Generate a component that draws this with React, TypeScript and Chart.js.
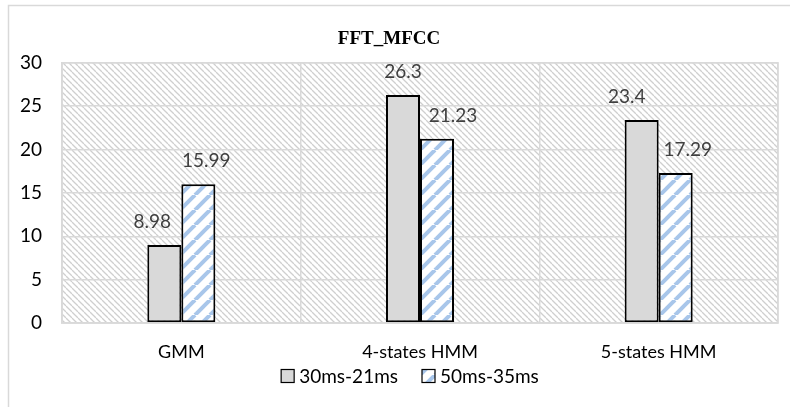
import React, { useEffect, useRef } from "react";
import { Chart, registerables } from "chart.js";

Chart.register(...registerables);

const categories = ["GMM", "4-states HMM", "5-states HMM"];
const series1Name = "30ms-21ms";
const series2Name = "50ms-35ms";
const series1 = [8.98, 26.3, 23.4];
const series2 = [15.99, 21.23, 17.29];
const series1Labels = ["8.98", "26.3", "23.4"];
const series2Labels = ["15.99", "21.23", "17.29"];
const yTicks = [0, 5, 10, 15, 20, 25, 30];
// label nudges relative to the bar top (styling, not data)
const labelNudge1 = [-12, 0, -15];
const labelNudge2 = [8, 16, 12];

const FONT = "Lato, 'Open Sans', sans-serif";

function makeBgPattern(): CanvasPattern | string {
  const P = 6;
  const c = document.createElement("canvas");
  c.width = P;
  c.height = P;
  const x = c.getContext("2d");
  if (!x) return "#eeeeee";
  x.fillStyle = "#ffffff";
  x.fillRect(0, 0, P, P);
  x.strokeStyle = "#cfcfcf";
  x.lineWidth = 1.3;
  for (let k = -1; k <= 1; k++) {
    x.beginPath();
    x.moveTo(k * P, 0);
    x.lineTo(k * P + P, P);
    x.stroke();
  }
  return x.createPattern(c, "repeat") || "#eeeeee";
}

function makeBluePattern(): CanvasPattern | string {
  const P = 15;
  const c = document.createElement("canvas");
  c.width = P;
  c.height = P;
  const x = c.getContext("2d");
  if (!x) return "#a9c5e8";
  x.fillStyle = "#ffffff";
  x.fillRect(0, 0, P, P);
  x.strokeStyle = "#a8c6ea";
  x.lineWidth = 4;
  for (let k = -1; k <= 1; k++) {
    x.beginPath();
    x.moveTo(k * P, P);
    x.lineTo(k * P + P, 0);
    x.stroke();
  }
  return x.createPattern(c, "repeat") || "#a9c5e8";
}

export default function App() {
  const ref = useRef<HTMLCanvasElement | null>(null);

  useEffect(() => {
    const canvas = ref.current;
    if (!canvas) return;
    const bg = makeBgPattern();
    const blue = makeBluePattern();

    const bgPlugin = {
      id: "plotBg",
      beforeDraw(chart: any) {
        const { ctx, chartArea } = chart;
        ctx.save();
        ctx.fillStyle = "#ffffff";
        ctx.fillRect(0, 0, chart.width, chart.height);
        ctx.strokeStyle = "#d9d9d9";
        ctx.lineWidth = 1.5;
        ctx.strokeRect(8.5, 5.5, chart.width + 20, chart.height + 20);
        ctx.fillStyle = bg;
        ctx.fillRect(chartArea.left, chartArea.top, chartArea.right - chartArea.left, chartArea.bottom - chartArea.top);
        ctx.restore();
      },
    };

    const labelPlugin = {
      id: "valLabels",
      afterDatasetsDraw(chart: any) {
        const { ctx } = chart;
        ctx.save();
        ctx.font = `19px ${FONT}`;
        ctx.fillStyle = "#404040";
        ctx.textAlign = "center";
        ctx.textBaseline = "middle";
        const sets = [
          { labels: series1Labels, nudge: labelNudge1 },
          { labels: series2Labels, nudge: labelNudge2 },
        ];
        sets.forEach((s, di) => {
          const meta = chart.getDatasetMeta(di);
          meta.data.forEach((bar: any, i: number) => {
            ctx.fillText(s.labels[i], bar.x + s.nudge[i], bar.y - 23);
          });
        });
        ctx.restore();
      },
    };

    const legendPlugin = {
      id: "customLegend",
      afterDraw(chart: any) {
        const { ctx } = chart;
        ctx.save();
        ctx.font = `19px ${FONT}`;
        ctx.textBaseline = "middle";
        ctx.textAlign = "left";
        const items = [
          { text: series1Name, fill: "#d9d9d9" as any },
          { text: series2Name, fill: blue as any },
        ];
        const box = 13, gap = 5, between = 24;
        const widths = items.map((it) => ctx.measureText(it.text).width);
        const total = widths.reduce((a, w) => a + box + gap + w, 0) + between;
        const cy = 376;
        let x = 410 - total / 2;
        items.forEach((it, i) => {
          ctx.fillStyle = it.fill;
          ctx.fillRect(x, cy - box / 2, box, box);
          ctx.strokeStyle = "#000000";
          ctx.lineWidth = 1.2;
          ctx.strokeRect(x, cy - box / 2, box, box);
          ctx.fillStyle = "#000000";
          ctx.fillText(it.text, x + box + gap, cy + 1);
          x += box + gap + widths[i] + between;
        });
        ctx.restore();
      },
    };

    const chart = new Chart(canvas, {
      type: "bar",
      data: {
        labels: categories,
        datasets: [
          {
            label: series1Name,
            data: series1,
            backgroundColor: "#d9d9d9",
            borderColor: "#000000",
            borderWidth: 2,
            borderSkipped: false,
            barPercentage: 1,
            categoryPercentage: 0.285,
          },
          {
            label: series2Name,
            data: series2,
            backgroundColor: blue as any,
            borderColor: "#000000",
            borderWidth: 2,
            borderSkipped: false,
            barPercentage: 1,
            categoryPercentage: 0.285,
          },
        ],
      },
      options: {
        animation: false,
        responsive: false,
        maintainAspectRatio: false,
        devicePixelRatio: 1,
        layout: { padding: { left: 0, right: 12, top: 0, bottom: 36 } },
        plugins: {
          title: {
            display: true,
            text: "FFT_MFCC",
            color: "#000000",
            font: { family: "'Liberation Serif', 'Times New Roman', serif", size: 19, weight: "bold" },
            padding: { top: 28, bottom: 12 },
          },
          legend: { display: false },
          tooltip: { enabled: false },
        },
        scales: {
          x: {
            grid: { display: true, offset: true, color: "#d9d9d9", lineWidth: 1.5, drawTicks: false },
            border: { display: true, color: "#d9d9d9", width: 1.5 },
            ticks: { color: "#000000", font: { family: FONT, size: 18 }, padding: 18 },
            afterFit(scale: any) {
              scale.height = 48;
            },
          },
          y: {
            min: 0,
            max: 30,
            afterBuildTicks(scale: any) {
              scale.ticks = yTicks.map((v) => ({ value: v }));
            },
            grid: { color: "#d9d9d9", lineWidth: 1.5, drawTicks: false },
            border: { display: true, color: "#d9d9d9", width: 1.5 },
            ticks: { color: "#000000", font: { family: FONT, size: 19 }, padding: 20 },
            afterFit(scale: any) {
              scale.width = 62;
            },
          },
        },
      },
      plugins: [bgPlugin, labelPlugin, legendPlugin, {
        id: "frame",
        afterDraw(chart: any) {
          const { ctx, chartArea } = chart;
          ctx.save();
          ctx.strokeStyle = "#d9d9d9";
          ctx.lineWidth = 1.5;
          ctx.strokeRect(chartArea.left, chartArea.top, chartArea.right - chartArea.left, chartArea.bottom - chartArea.top);
          ctx.restore();
        },
      }],
    } as any);

    return () => chart.destroy();
  }, []);

  return (
    <div style={{ position: "fixed", left: 0, top: 0, width: 790, height: 407, background: "#fff" }}>
      <canvas ref={ref} width={790} height={407} style={{ width: 790, height: 407, display: "block" }} />
    </div>
  );
}
